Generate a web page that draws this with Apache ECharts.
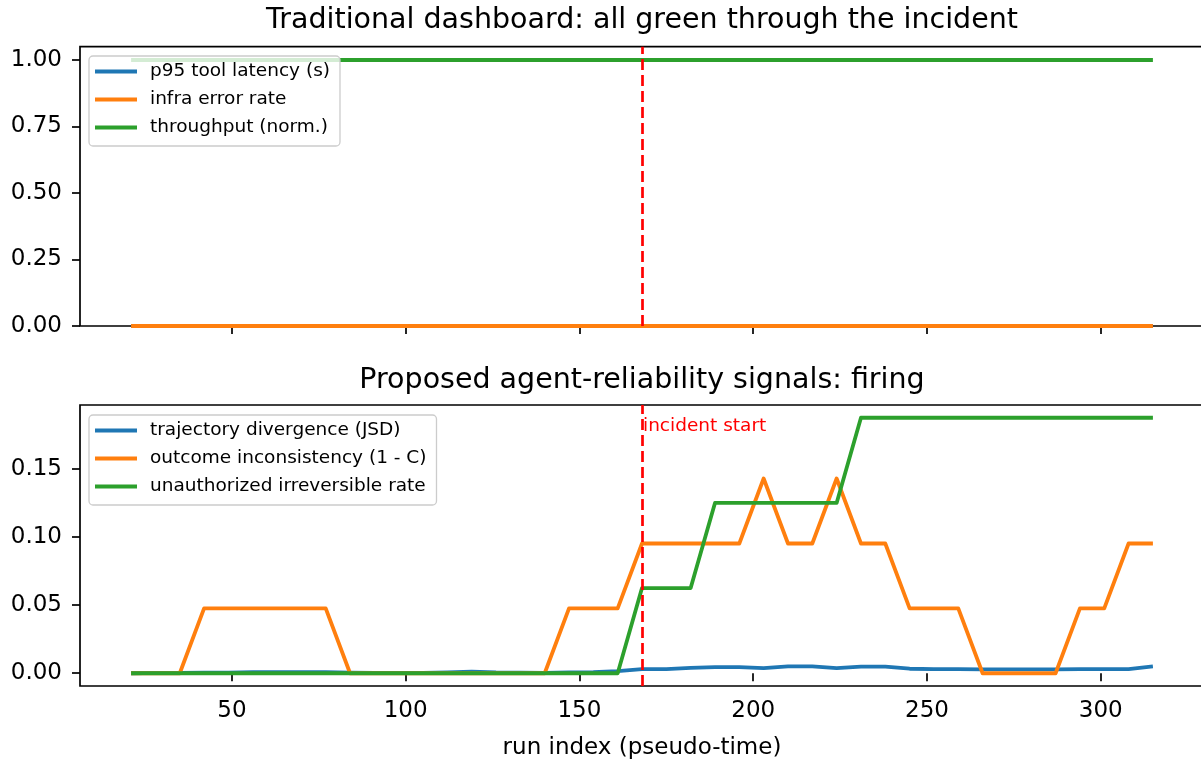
<!DOCTYPE html>
<html>
<head>
<meta charset="utf-8">
<script src="https://cdn.jsdelivr.net/npm/echarts@6/dist/echarts.min.js"></script>
<style>
html,body{margin:0;padding:0;background:#fff;overflow:hidden;}
#chart{width:1201px;height:764px;}
</style>
</head>
<body>
<div id="chart"></div>
<script>
// ---------- data ----------
const runIndex = [21,28,35,42,49,56,63,70,77,84,91,98,105,112,119,126,133,140,147,154,161,168,175,182,189,196,203,210,217,224,231,238,245,252,259,266,273,280,287,294,301,308,315];

// top panel (traditional dashboard)
const p95Latency = [0,0,0,0,0,0,0,0,0,0,0,0,0,0,0,0,0,0,0,0,0,0,0,0,0,0,0,0,0,0,0,0,0,0,0,0,0,0,0,0,0,0,0];
const infraErrorRate = [0,0,0,0,0,0,0,0,0,0,0,0,0,0,0,0,0,0,0,0,0,0,0,0,0,0,0,0,0,0,0,0,0,0,0,0,0,0,0,0,0,0,0];
const throughputNorm = [1,1,1,1,1,1,1,1,1,1,1,1,1,1,1,1,1,1,1,1,1,1,1,1,1,1,1,1,1,1,1,1,1,1,1,1,1,1,1,1,1,1,1];

// bottom panel (agent-reliability signals)
const trajectoryDivergence = [0.0000,0.0002,0.0003,0.0004,0.0005,0.0008,0.0008,0.0008,0.0007,0.0004,0.0003,0.0002,0.0003,0.0006,0.0012,0.0006,0.0005,0.0003,0.0006,0.0008,0.0015,0.0030,0.0030,0.0040,0.0045,0.0045,0.0038,0.0050,0.0050,0.0037,0.0048,0.0048,0.0033,0.0030,0.0030,0.0029,0.0028,0.0028,0.0028,0.0030,0.0030,0.0030,0.0050];
const outcomeInconsistency = [0,0,0,0.0476,0.0476,0.0476,0.0476,0.0476,0.0476,0,0,0,0,0,0,0,0,0,0.0476,0.0476,0.0476,0.0952,0.0952,0.0952,0.0952,0.0952,0.1429,0.0952,0.0952,0.1429,0.0952,0.0952,0.0476,0.0476,0.0476,0,0,0,0,0.0476,0.0476,0.0952,0.0952];
const unauthorizedIrreversible = [0,0,0,0,0,0,0,0,0,0,0,0,0,0,0,0,0,0,0,0,0,0.0625,0.0625,0.0625,0.125,0.125,0.125,0.125,0.125,0.125,0.1875,0.1875,0.1875,0.1875,0.1875,0.1875,0.1875,0.1875,0.1875,0.1875,0.1875,0.1875,0.1875];

const incidentStart = 168;

const xTicks = [50,100,150,200,250,300];
const yTicksTop = [0,0.25,0.5,0.75,1.0];
const yTicksBottom = [0,0.05,0.10,0.15];

const topTitle = 'Traditional dashboard: all green through the incident';
const bottomTitle = 'Proposed agent-reliability signals: firing';
const xName = 'run index (pseudo-time)';
const topNames = ['p95 tool latency (s)','infra error rate','throughput (norm.)'];
const bottomNames = ['trajectory divergence (JSD)','outcome inconsistency (1 - C)','unauthorized irreversible rate'];
const incidentLabel = 'incident start';

// ---------- layout / style ----------
const FONT = '"DejaVu Sans", "Liberation Sans", sans-serif';
const C = ['#1f77b4','#ff7f0e','#2ca02c'];
const X_MIN = 6.3, X_MAX = 329.7;
const TOP_Y_MIN = 0, TOP_Y_MAX = 1.05;
const BOT_Y_MIN = -0.009375, BOT_Y_MAX = 0.196875;
const LABEL_Y = 0.1815;
const LW = 3.8;
const TICK_FS = 23;

const pairs = ys => runIndex.map((x,i)=>[x, ys[i]]);

function xAxisCfg(gridIndex, showLabels){
  return {
    type:'value', gridIndex, min:X_MIN, max:X_MAX,
    axisLine:{show:false},
    splitLine:{show:false},
    axisTick:{show:true, length:8, customValues:xTicks, lineStyle:{color:'#000', width:1.7}},
    axisLabel:{show:showLabels, customValues:xTicks, margin:14, fontSize:TICK_FS, fontFamily:FONT, color:'#000'},
    name: showLabels ? xName : '',
    nameLocation:'middle', nameGap:51,
    nameTextStyle:{fontSize:TICK_FS, fontFamily:FONT, color:'#000'}
  };
}
function yAxisCfg(gridIndex, min, max, ticks){
  return {
    type:'value', gridIndex, min, max,
    axisLine:{show:false},
    splitLine:{show:false},
    axisTick:{show:true, length:8, customValues:ticks, lineStyle:{color:'#000', width:1.7}},
    axisLabel:{customValues:ticks, margin:18, fontSize:TICK_FS, fontFamily:FONT, color:'#000',
      formatter: v => v.toFixed(2)}
  };
}
function lineSeries(name, ys, color, axisIdx){
  return {
    type:'line', name, data:pairs(ys), xAxisIndex:axisIdx, yAxisIndex:axisIdx,
    showSymbol:false, symbol:'none', smooth:false,
    lineStyle:{color, width:LW, cap:'butt', join:'round'},
    itemStyle:{color},
    emphasis:{disabled:true}, silent:true
  };
}
function legendCfg(names, top){
  return {
    orient:'vertical', left:89, top,
    data: names.map(n=>({name:n, icon:'rect'})),
    itemWidth:42, itemHeight:3.8, itemGap:7,
    padding:[5,10,8,6],
    backgroundColor:'rgba(255,255,255,0.8)',
    borderColor:'#cccccc', borderWidth:1.3, borderRadius:4,
    textStyle:{fontSize:18.5, fontFamily:FONT, color:'#000', lineHeight:21, padding:[0,0,0,8]},
    selectedMode:false
  };
}
const markLineCfg = {
  silent:true, symbol:'none', label:{show:false},
  lineStyle:{color:'#ff0000', type:[11,5], width:2.7},
  data:[{xAxis:incidentStart}]
};

const topSeries = [
  lineSeries(topNames[0], p95Latency, C[0], 0),
  lineSeries(topNames[1], infraErrorRate, C[1], 0),
  lineSeries(topNames[2], throughputNorm, C[2], 0)
];
topSeries[2].markLine = markLineCfg;

const botSeries = [
  lineSeries(bottomNames[0], trajectoryDivergence, C[0], 1),
  lineSeries(bottomNames[1], outcomeInconsistency, C[1], 1),
  lineSeries(bottomNames[2], unauthorizedIrreversible, C[2], 1)
];
botSeries[2].markLine = markLineCfg;
botSeries[2].markPoint = {
  silent:true, symbol:'circle', symbolSize:0,
  data:[{coord:[incidentStart, LABEL_Y], value:0}],
  label:{show:true, formatter:incidentLabel, position:'right', distance:1,
    color:'#ff0000', fontSize:18.5, fontFamily:FONT}
};

const gridBase = {left:80, width:1124, show:true, borderColor:'#000', borderWidth:1.7, z:3,
  backgroundColor:'transparent', containLabel:false, outerBoundsMode:'none'};

const option = {
  animation:false,
  backgroundColor:'#fff',
  grid:[
    Object.assign({}, gridBase, {top:46.7, height:279.3}),
    Object.assign({}, gridBase, {top:405, height:281})
  ],
  xAxis:[xAxisCfg(0,false), xAxisCfg(1,true)],
  yAxis:[yAxisCfg(0,TOP_Y_MIN,TOP_Y_MAX,yTicksTop), yAxisCfg(1,BOT_Y_MIN,BOT_Y_MAX,yTicksBottom)],
  legend:[legendCfg(topNames,56), legendCfg(bottomNames,415)],
  graphic:[
    {type:'text', x:642, y:21, silent:true, style:{text:topTitle, fontSize:28.5, fontFamily:FONT, fill:'#000', align:'center', verticalAlign:'middle'}},
    {type:'text', x:642, y:381, silent:true, style:{text:bottomTitle, fontSize:28.5, fontFamily:FONT, fill:'#000', align:'center', verticalAlign:'middle'}}
  ],
  series:[...topSeries, ...botSeries]
};

const chart = echarts.init(document.getElementById('chart'), null, {renderer:'canvas'});
chart.setOption(option);
</script>
</body>
</html>
